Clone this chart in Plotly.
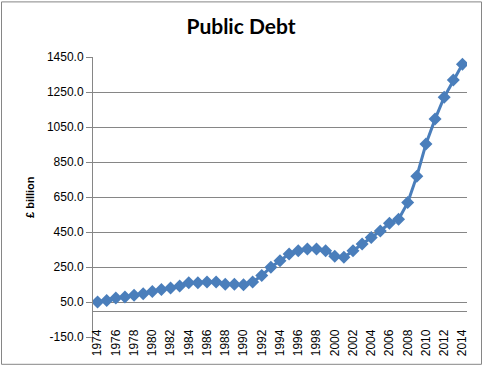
import plotly.graph_objects as go

years = list(range(1974, 2015))
debt = [50, 59, 73, 78, 88, 97, 110, 122, 130, 141, 160, 160, 164, 164, 152, 152, 148, 164,
        201, 249, 286, 324, 343, 353, 353, 343, 311, 305, 343, 381, 419, 456, 500, 523,
        618, 769, 953, 1095, 1220, 1318, 1409]
y_ticks = [-150, 50, 250, 450, 650, 850, 1050, 1250, 1450]
x_ticks = list(range(1974, 2015, 2))

W, H = 483, 368
L, R, T, B = 93, 16, 57, 29
y_min, y_max = -150, 1450
pw, ph = W - L - R, H - T - B

fig = go.Figure()
fig.add_trace(go.Scatter(
    x=years, y=debt, mode="lines+markers",
    line=dict(color="#4A7EBB", width=3),
    marker=dict(symbol="diamond", size=10, color="#4A7EBB"),
    showlegend=False, hoverinfo="skip"))

fig.update_layout(
    width=W, height=H,
    margin=dict(l=L, r=R, t=T, b=B),
    paper_bgcolor="white", plot_bgcolor="white",
    font=dict(family="Liberation Sans, Arial", color="black"),
    title=dict(text="<b>Public Debt</b>", x=241 / W, xanchor="center", xref="container",
               y=1 - 27 / H, yanchor="middle", yref="container",
               font=dict(family="Lato", size=21, color="black")),
    xaxis=dict(range=[1973.5, 2014.5], tickvals=x_ticks, ticktext=[str(v) for v in x_ticks],
               tickangle=-90, tickfont=dict(size=12), showgrid=False, zeroline=False,
               showline=True, linecolor="#868686", linewidth=1,
               anchor="free", position=(0 - y_min) / (y_max - y_min),
               ticks="outside", ticklen=13, tickcolor="rgba(0,0,0,0)", fixedrange=True),
    yaxis=dict(range=[y_min, y_max], tickvals=y_ticks,
               ticktext=[f"{v:.1f}" for v in y_ticks], tickfont=dict(size=12),
               showgrid=True, gridcolor="#868686", gridwidth=1, zeroline=False,
               showline=True, linecolor="#868686", linewidth=1,
               ticks="outside", ticklen=6, tickcolor="#868686", fixedrange=True),
    annotations=[dict(text="<b>£ billion</b>", textangle=-90, xref="paper", yref="paper",
                      x=(30 - L) / pw, y=0.5, xanchor="center", yanchor="middle",
                      showarrow=False, font=dict(size=11, color="black"))],
    shapes=[dict(type="rect", xref="paper", yref="paper",
                 x0=(1.5 - L) / pw, x1=(W - 1.5 - L) / pw,
                 y0=-(B - 1.5) / ph, y1=1 + (T - 1.5) / ph,
                 line=dict(color="#868686", width=1), fillcolor="rgba(0,0,0,0)", layer="below")],
)

fig.write_html("out.html", config={"displayModeBar": False},
               post_script="document.body.style.margin='0';document.body.style.overflow='hidden';")
